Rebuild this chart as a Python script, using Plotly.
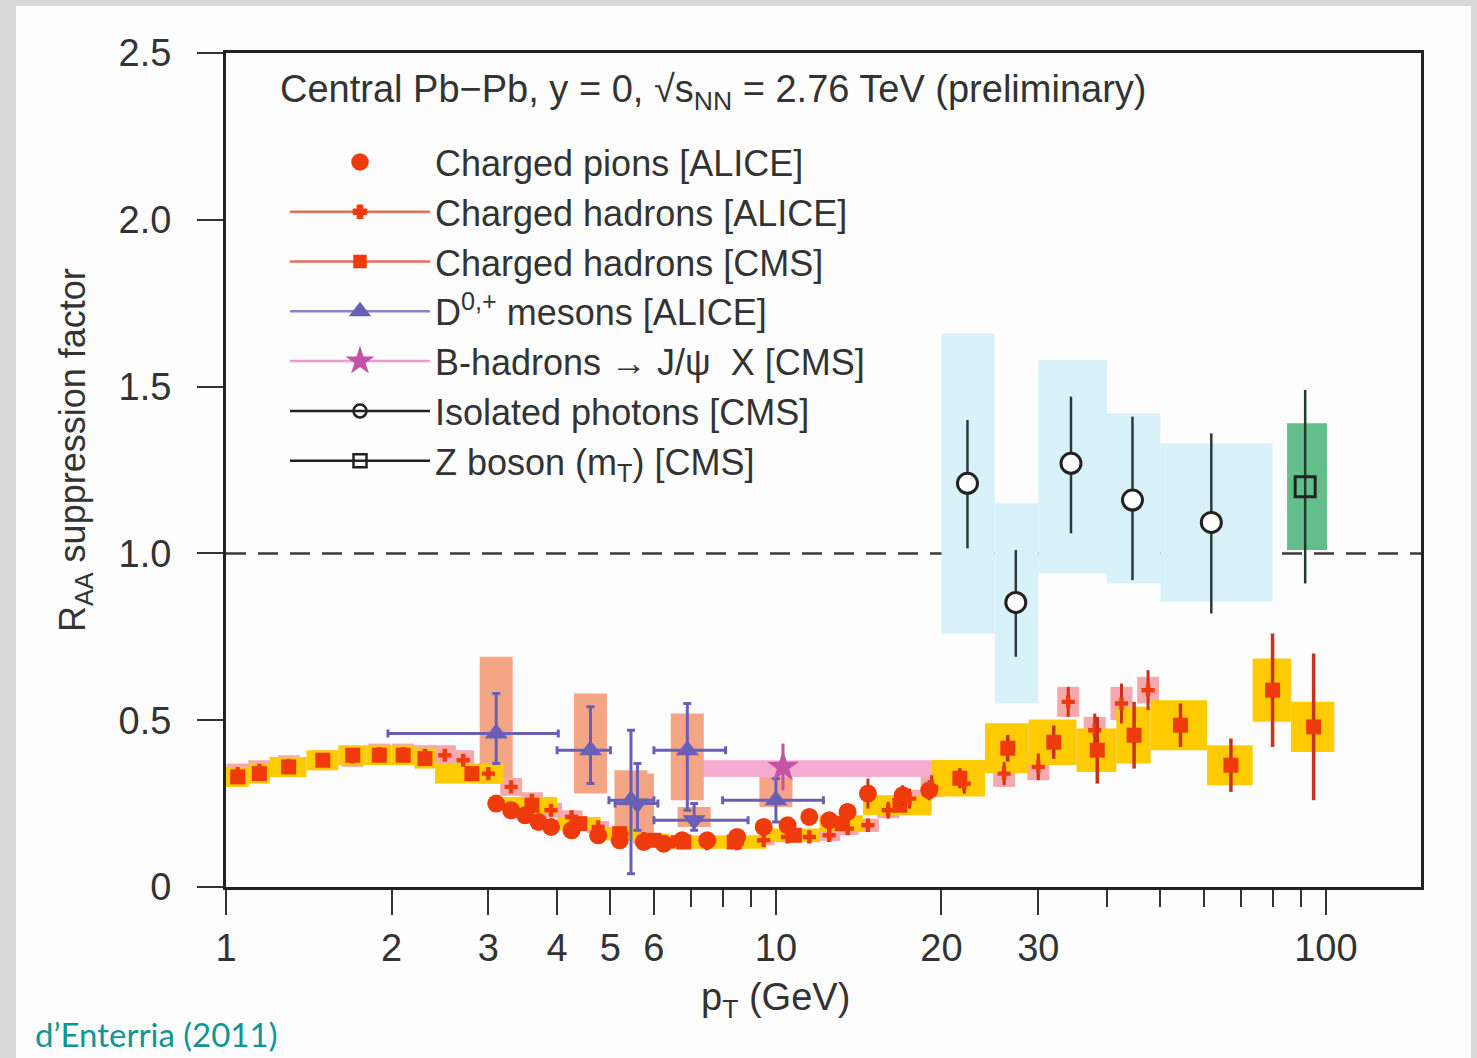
import math
import plotly.graph_objects as go

# ---------------- data ----------------
# Charged pions [ALICE]
pion_pt = [3.1, 3.3, 3.5, 3.7, 3.9, 4.25, 4.75, 5.2, 5.75, 6.25, 6.75, 7.5, 8.5, 9.5, 10.5, 11.5, 12.5, 13.5, 14.7, 17.0, 19.0]
pion_raa = [0.25, 0.23, 0.215, 0.195, 0.18, 0.17, 0.155, 0.14, 0.135, 0.13, 0.14, 0.14, 0.15, 0.18, 0.185, 0.21, 0.20, 0.225, 0.28, 0.275, 0.29]
pion_err = [0.01, 0.01, 0.01, 0.01, 0.01, 0.01, 0.01, 0.01, 0.01, 0.01, 0.01, 0.01, 0.012, 0.015, 0.015, 0.02, 0.02, 0.025, 0.045, 0.03, 0.03]

# Charged hadrons [ALICE]
alice_pt = [1.05, 1.15, 1.3, 1.5, 1.7, 1.9, 2.1, 2.3, 2.5, 2.7, 3.0, 3.3, 3.6, 3.9, 4.25, 4.75, 5.25, 5.75, 6.5, 7.5,
            8.5, 9.5, 10.5, 11.5, 12.5, 13.5, 14.7, 16.0, 17.5, 19.2, 22.0, 26.0, 30.0, 34.0, 38.0, 42.5, 47.5]
alice_raa = [0.34, 0.35, 0.365, 0.38, 0.39, 0.40, 0.40, 0.395, 0.395, 0.38, 0.34, 0.30, 0.26, 0.23, 0.21, 0.18, 0.16, 0.145, 0.135, 0.13,
             0.13, 0.14, 0.15, 0.15, 0.155, 0.175, 0.185, 0.23, 0.265, 0.30, 0.31, 0.34, 0.36, 0.555, 0.47, 0.55, 0.59]
alice_stat = [0.005, 0.005, 0.005, 0.005, 0.005, 0.005, 0.005, 0.005, 0.005, 0.005, 0.005, 0.005, 0.005, 0.005, 0.005, 0.005, 0.005, 0.005, 0.006, 0.007,
              0.008, 0.01, 0.012, 0.014, 0.016, 0.018, 0.02, 0.025, 0.03, 0.035, 0.03, 0.035, 0.04, 0.045, 0.05, 0.06, 0.06]
alice_sys = [0.03, 0.03, 0.03, 0.03, 0.03, 0.03, 0.03, 0.03, 0.03, 0.03, 0.03, 0.027, 0.024, 0.022, 0.02, 0.018, 0.016, 0.015, 0.014, 0.014,
             0.014, 0.015, 0.016, 0.016, 0.017, 0.019, 0.02, 0.024, 0.027, 0.03, 0.03, 0.04, 0.04, 0.045, 0.04, 0.05, 0.04]

# Charged hadrons [CMS]
cms_pt = [1.05, 1.15, 1.3, 1.5, 1.7, 1.9, 2.1, 2.3, 2.8, 3.6, 4.4, 5.2, 6.0, 6.8, 8.4, 10.8, 13.2, 16.8,
          21.6, 26.4, 32.0, 38.4, 44.8, 54.4, 67.2, 80.0, 95.0]
cms_lo = [1.0, 1.1, 1.2, 1.4, 1.6, 1.8, 2.0, 2.2, 2.4, 3.2, 4.0, 4.8, 5.6, 6.4, 7.2, 9.6, 12.0, 14.4,
          19.2, 24.0, 28.8, 35.2, 41.6, 48.0, 60.8, 73.6, 86.4]
cms_hi = [1.1, 1.2, 1.4, 1.6, 1.8, 2.0, 2.2, 2.4, 3.2, 4.0, 4.8, 5.6, 6.4, 7.2, 9.6, 12.0, 14.4, 19.2,
          24.0, 28.8, 35.2, 41.6, 48.0, 60.8, 73.6, 86.4, 103.6]
cms_raa = [0.33, 0.34, 0.36, 0.38, 0.395, 0.395, 0.395, 0.385, 0.34, 0.245, 0.19, 0.16, 0.14, 0.135, 0.135, 0.155, 0.19, 0.245,
           0.326, 0.416, 0.434, 0.41, 0.455, 0.485, 0.365, 0.59, 0.48]
cms_stat = [0.005, 0.005, 0.005, 0.005, 0.005, 0.005, 0.005, 0.005, 0.005, 0.005, 0.005, 0.005, 0.005, 0.005, 0.006, 0.008, 0.01, 0.015,
            0.03, 0.04, 0.05, 0.1, 0.1, 0.065, 0.08, 0.17, 0.22]
cms_sys = [0.03, 0.03, 0.03, 0.03, 0.03, 0.03, 0.03, 0.03, 0.03, 0.025, 0.02, 0.02, 0.02, 0.02, 0.02, 0.02, 0.025, 0.03,
           0.055, 0.075, 0.068, 0.065, 0.085, 0.075, 0.06, 0.095, 0.075]

# D0 / D+ mesons [ALICE]
d0_pt = [3.1, 4.6, 5.45, 6.9, 10.0]
d0_raa = [0.46, 0.41, 0.26, 0.41, 0.26]
d0_ex_minus = [1.13, 0.6, 0.48, 0.9, 2.0]
d0_ex_plus = [0.92, 0.4, 0.55, 1.2, 2.2]
d0_ey_plus = [0.12, 0.13, 0.21, 0.14, 0.065]
d0_ey_minus = [0.09, 0.1, 0.22, 0.18, 0.065]
d0_sys_lo = [0.31, 0.28, 0.17, 0.26, 0.24]
d0_sys_hi = [0.69, 0.58, 0.35, 0.52, 0.33]
dp_pt = [5.6, 7.1]
dp_raa = [0.25, 0.20]
dp_ex_minus = [0.5, 1.1]
dp_ex_plus = [0.5, 1.8]
dp_ey_plus = [0.12, 0.05]
dp_ey_minus = [0.08, 0.03]
dp_sys_lo = [0.15, 0.18]
dp_sys_hi = [0.34, 0.24]

# B-hadrons -> J/psi X [CMS]
b_pt = [10.3]
b_raa = [0.36]
b_err = [0.07]
b_band_lo = [7.2]
b_band_hi = [19.5]
b_band_ylo = [0.33]
b_band_yhi = [0.38]

# Isolated photons [CMS]
ph_pt = [22.3, 27.3, 34.4, 44.5, 61.9]
ph_raa = [1.21, 0.853, 1.27, 1.16, 1.093]
ph_err_plus = [0.19, 0.157, 0.20, 0.25, 0.267]
ph_err_minus = [0.195, 0.163, 0.21, 0.24, 0.273]
ph_lo = [20.0, 25.0, 30.0, 40.0, 50.0]
ph_hi = [25.0, 30.0, 40.0, 50.0, 80.0]
ph_sys_lo = [0.76, 0.55, 0.94, 0.91, 0.855]
ph_sys_hi = [1.66, 1.15, 1.58, 1.42, 1.33]

# Z boson (mT) [CMS]
z_pt = [91.7]
z_raa = [1.20]
z_err = [0.29]
z_lo = [85.0]
z_hi = [100.5]
z_sys_lo = [1.01]
z_sys_hi = [1.39]

x_ticks = [1, 2, 3, 4, 5, 6, 10, 20, 30, 100]
x_minor = [7, 8, 9, 40, 50, 60, 70, 80, 90]
y_ticks = [0, 0.5, 1.0, 1.5, 2.0, 2.5]
y_ticktext = ["0", "0.5", "1.0", "1.5", "2.0", "2.5"]

# ---------------- styles ----------------
W, H = 1477, 1058
ML, MR, MT, MB = 226, 56, 53, 171
PW, PH = W - ML - MR, H - MT - MB

RED = "#ef3b0c"
RED_ERR = "#c8321c"
YELLOW = "#fecb00"
PINK = "#f6a9ad"
SALMON = "#f3a585"
BPINK = "#f6abd0"
DBLUE = "#6a5fb6"
BMAG = "#c453a6"
LBLUE = "#d9f2fa"
GREEN = "#62bf8c"
BLACK = "#222222"
NARROW = "Liberation Sans Narrow, Arial Narrow, Liberation Sans, Arial, sans-serif"
SANS = "Liberation Sans, Arial, sans-serif"


def px_x(px):
    return (px - ML) / PW


def px_y(py):
    return (H - MB - py) / PH


shapes = []


def rect(x0, x1, y0, y1, color, ref="x"):
    shapes.append(dict(type="rect", xref=ref, yref="y", x0=x0, x1=x1, y0=y0, y1=y1,
                       fillcolor=color, line=dict(width=0), layer="below"))


# gray outer frame strips
for (a, b, c, d) in [(0, 16, 0, H), (0, W, 0, 6), (1471, W, 0, H)]:
    shapes.append(dict(type="rect", xref="paper", yref="paper",
                       x0=px_x(a), x1=px_x(b), y0=px_y(d), y1=px_y(c),
                       fillcolor="#d8d8d8", line=dict(width=0), layer="below"))

# systematic boxes
for lo, hi, ylo, yhi in zip(ph_lo, ph_hi, ph_sys_lo, ph_sys_hi):
    rect(lo, hi, ylo, yhi, LBLUE)
for lo, hi, ylo, yhi in zip(z_lo, z_hi, z_sys_lo, z_sys_hi):
    rect(lo, hi, ylo, yhi, GREEN)
for lo, hi, ylo, yhi in zip(b_band_lo, b_band_hi, b_band_ylo, b_band_yhi):
    rect(lo, hi, ylo, yhi, BPINK)
DBOX = 0.03  # half width of D-meson boxes in decades
for pt, ylo, yhi in list(zip(d0_pt, d0_sys_lo, d0_sys_hi)) + list(zip(dp_pt, dp_sys_lo, dp_sys_hi)):
    rect(pt / 10 ** DBOX, pt * 10 ** DBOX, ylo, yhi, SALMON)
ABOX = 0.02
for pt, v, s in zip(alice_pt, alice_raa, alice_sys):
    rect(pt / 10 ** ABOX, pt * 10 ** ABOX, v - s, v + s, PINK)
for lo, hi, v, s in zip(cms_lo, cms_hi, cms_raa, cms_sys):
    rect(lo, hi, v - s, v + s, YELLOW)

# reference line at R_AA = 1
shapes.append(dict(type="line", xref="paper", yref="y", x0=0, x1=1, y0=1, y1=1,
                   line=dict(color="#3a3a3a", width=2.5, dash="20px,12px"), layer="below"))

fig = go.Figure()

# data traces
fig.add_trace(go.Scatter(x=alice_pt, y=alice_raa, mode="markers", showlegend=False,
                         marker=dict(symbol="cross", size=11, color=RED),
                         error_y=dict(type="data", array=alice_stat, color=RED_ERR, thickness=3, width=0)))
fig.add_trace(go.Scatter(x=cms_pt, y=cms_raa, mode="markers", showlegend=False,
                         marker=dict(symbol="square", size=15, color=RED),
                         error_y=dict(type="data", array=cms_stat, color=RED_ERR, thickness=3.5, width=0)))
fig.add_trace(go.Scatter(x=pion_pt, y=pion_raa, mode="markers", showlegend=False,
                         marker=dict(symbol="circle", size=18, color=RED),
                         error_y=dict(type="data", array=pion_err, color=RED_ERR, thickness=3, width=0)))
fig.add_trace(go.Scatter(x=d0_pt, y=d0_raa, mode="markers", showlegend=False,
                         marker=dict(symbol="triangle-up", size=20, color=DBLUE),
                         error_x=dict(type="data", symmetric=False, array=d0_ex_plus, arrayminus=d0_ex_minus,
                                      color=DBLUE, thickness=3, width=4),
                         error_y=dict(type="data", symmetric=False, array=d0_ey_plus, arrayminus=d0_ey_minus,
                                      color=DBLUE, thickness=3, width=4)))
fig.add_trace(go.Scatter(x=dp_pt, y=dp_raa, mode="markers", showlegend=False,
                         marker=dict(symbol="triangle-down", size=20, color=DBLUE),
                         error_x=dict(type="data", symmetric=False, array=dp_ex_plus, arrayminus=dp_ex_minus,
                                      color=DBLUE, thickness=3, width=4),
                         error_y=dict(type="data", symmetric=False, array=dp_ey_plus, arrayminus=dp_ey_minus,
                                      color=DBLUE, thickness=3, width=4)))
fig.add_trace(go.Scatter(x=b_pt, y=b_raa, mode="markers", showlegend=False,
                         marker=dict(symbol="star", size=24, color=BMAG),
                         error_y=dict(type="data", array=b_err, color=BMAG, thickness=3, width=0)))
fig.add_trace(go.Scatter(x=ph_pt, y=ph_raa, mode="markers", showlegend=False,
                         marker=dict(symbol="circle", size=20, color="white", line=dict(color=BLACK, width=3)),
                         error_y=dict(type="data", symmetric=False, array=ph_err_plus, arrayminus=ph_err_minus,
                                      color="#2b3a3a", thickness=2.5, width=0)))
fig.add_trace(go.Scatter(x=z_pt, y=z_raa, mode="markers", showlegend=False,
                         marker=dict(symbol="square-open", size=20, color=BLACK, line=dict(width=3)),
                         error_y=dict(type="data", array=z_err, color="#1f3a2a", thickness=2.5, width=0)))

# legend entries
legend_items = [
    ("Charged pions [ALICE]", "markers", "circle", 15, RED, RED),
    ("Charged hadrons [ALICE]", "lines+markers", "cross", 10, RED, "#ea6a55"),
    ("Charged hadrons [CMS]", "lines+markers", "square", 11, RED, "#ea6a55"),
    ("D<sup>0,+</sup> mesons [ALICE]", "lines+markers", "triangle-up", 15, DBLUE, "#8b83c8"),
    ("B-hadrons \u2192 J/\u03c8  X [CMS]", "lines+markers", "star", 16, BMAG, "#ea9ccb"),
    ("Isolated photons [CMS]", "lines+markers", "circle-open", 13, BLACK, BLACK),
    ("Z boson (m<sub>T</sub>) [CMS]", "lines+markers", "square-open", 13, BLACK, BLACK),
]
for i, (name, mode, sym, sz, mc, lc) in enumerate(legend_items):
    fig.add_trace(go.Scatter(x=[None], y=[None], mode=mode, name=name, legendgroup=f"g{i}",
                             marker=dict(symbol=sym, size=sz, color=mc, line=dict(width=2.5, color=mc)),
                             line=dict(color=lc, width=2.5)))

fig.update_layout(
    width=W, height=H,
    margin=dict(l=ML, r=MR, t=MT, b=MB),
    paper_bgcolor="#fdfdfd", plot_bgcolor="#fdfdfd",
    shapes=shapes,
    showlegend=True,
    legend=dict(x=px_x(285), y=px_y(132), xanchor="left", yanchor="top",
                bgcolor="rgba(0,0,0,0)", font=dict(family=NARROW, size=36, color="#333333"),
                traceorder="grouped", tracegroupgap=0, itemsizing="trace", itemwidth=140),
    xaxis=dict(type="log", range=[0, 2.173], tickvals=x_ticks, ticktext=[str(t) for t in x_ticks],
               ticks="outside", ticklen=25, tickwidth=2, tickcolor="#333333",
               minor=dict(tickvals=x_minor, ticks="outside", ticklen=17, tickwidth=2, tickcolor="#333333"),
               showgrid=False, zeroline=False, showline=True, mirror=True, linewidth=3, linecolor=BLACK,
               tickfont=dict(family=SANS, size=38, color="#333333"), ticklabelstandoff=0),
    yaxis=dict(range=[0, 2.5], tickvals=y_ticks, ticktext=y_ticktext,
               ticks="outside", ticklen=26, tickwidth=2, tickcolor="#333333",
               showgrid=False, zeroline=False, showline=True, mirror=True, linewidth=3, linecolor=BLACK,
               tickfont=dict(family=SANS, size=38, color="#333333"), ticklabelstandoff=18),
    annotations=[
        dict(text="Central Pb\u2212Pb, y = 0, \u221as<sub>NN</sub> = 2.76 TeV (preliminary)",
             xref="paper", yref="paper", x=px_x(278), y=px_y(92), xanchor="left", yanchor="middle",
             showarrow=False, font=dict(family=NARROW, size=38, color="#333333")),
        dict(text="p<sub>T</sub> (GeV)", xref="paper", yref="paper", x=px_x(775), y=px_y(1000),
             xanchor="center", yanchor="middle", showarrow=False,
             font=dict(family=NARROW, size=38, color="#333333")),
        dict(text="R<sub>AA</sub> suppression factor", xref="paper", yref="paper", x=px_x(75), y=px_y(450),
             xanchor="center", yanchor="middle", textangle=-90, showarrow=False,
             font=dict(family=NARROW, size=36, color="#333333")),
        dict(text="d\u2019Enterria (2011)", xref="paper", yref="paper", x=px_x(33), y=px_y(1034),
             xanchor="left", yanchor="middle", showarrow=False,
             font=dict(family="Lato, Noto Sans, sans-serif", size=33, color="#0f9595")),
    ],
)

fig.write_html("out.html")
